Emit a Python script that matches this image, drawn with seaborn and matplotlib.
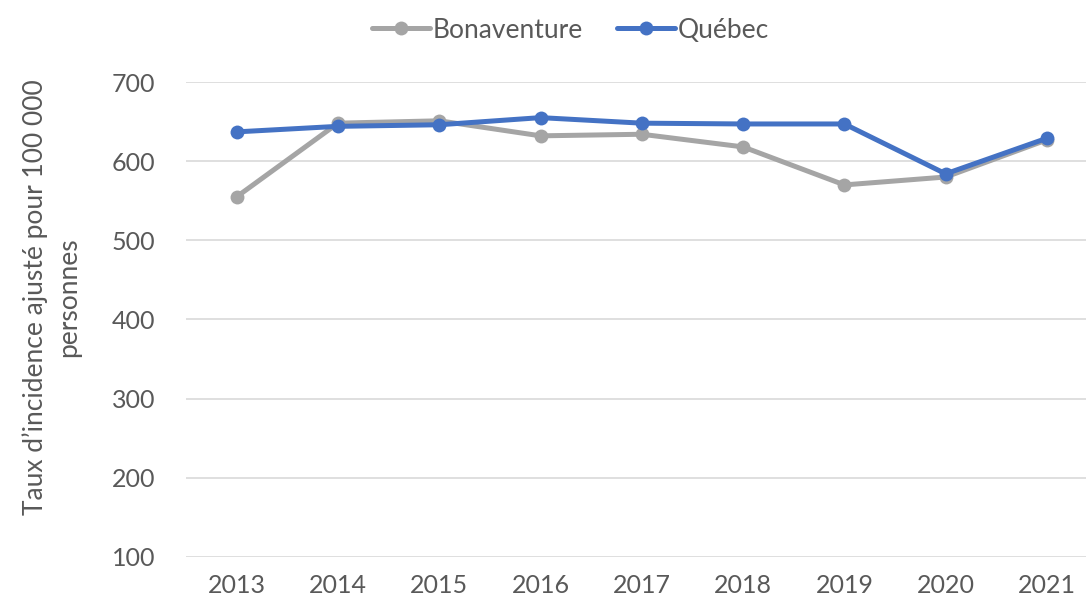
import pandas as pd
import matplotlib.pyplot as plt
import seaborn as sns

years = ["2013", "2014", "2015", "2016", "2017", "2018", "2019", "2020", "2021"]
bonaventure = [555, 648, 651, 632, 634, 618, 570, 580, 627]
quebec = [637, 644, 646, 655, 648, 647, 647, 584, 629]
series_names = ["Bonaventure", "Québec"]

GREY = "#A5A5A5"
BLUE = "#4472C4"
TEXT = "#595959"

df = pd.DataFrame({
    "year": years * 2,
    "value": bonaventure + quebec,
    "series": [series_names[0]] * len(years) + [series_names[1]] * len(years),
})

sns.set_theme(style="white")
plt.rcParams["font.family"] = ["Lato", "DejaVu Sans"]

fig = plt.figure(figsize=(10.86, 6.07), dpi=100)
ax = fig.add_axes([0.1713, 0.0824, 0.8394, 0.7825])

sns.lineplot(data=df, x="year", y="value", hue="series", hue_order=series_names,
             palette=[GREY, BLUE], marker="o", markersize=10, markeredgewidth=0,
             linewidth=3.6, ax=ax, sort=False)

ax.set_ylim(100, 700)
ax.set_xlim(-0.5, len(years) - 0.5)
ax.set_yticks(range(100, 701, 100))
ax.grid(axis="y", color="#D9D9D9", linewidth=1.2)
ax.set_axisbelow(True)
for s in ax.spines.values():
    s.set_visible(False)
ax.tick_params(axis="x", length=0, labelsize=18, colors=TEXT, pad=12)
ax.tick_params(axis="y", length=0, labelsize=18, colors=TEXT, pad=22)
ax.set_xlabel("")
ax.set_ylabel("")
fig.text(0.0475, 0.51, "Taux d\u2019incidence ajusté pour 100 000\npersonnes",
         rotation=90, ha="center", va="center", multialignment="center",
         fontsize=19, color=TEXT, linespacing=1.4)

handles, labels = ax.get_legend_handles_labels()
ax.legend_.remove()
fig.legend(handles, labels, loc="upper center", bbox_to_anchor=(0.525, 1.01),
           ncol=2, frameon=False, fontsize=19, labelcolor=TEXT,
           handlelength=2.2, handletextpad=0.1, columnspacing=1.3)

fig.savefig("out.png", dpi=100)
